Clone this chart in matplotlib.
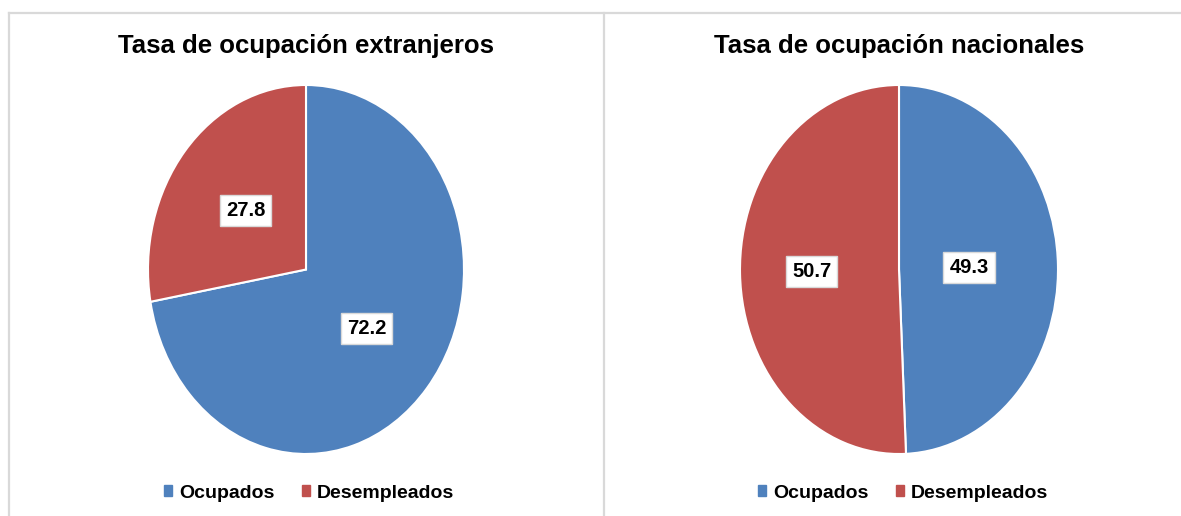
import matplotlib
matplotlib.use("Agg")
import matplotlib.pyplot as plt
from matplotlib.lines import Line2D
import numpy as np

plt.rcParams['font.family'] = ['Liberation Sans', 'DejaVu Sans']
plt.rcParams['font.weight'] = 'bold'

categories = ["Ocupados", "Desempleados"]
extranjeros = [72.2, 27.8]
nacionales = [49.3, 50.7]
titles = ["Tasa de ocupación extranjeros", "Tasa de ocupación nacionales"]
colors = ["#4F81BD", "#C0504D"]

W, H = 1181, 516
fig = plt.figure(figsize=(W / 100, H / 100), dpi=100)

def fx(px):
    return px / W

def fy(py):
    return 1 - py / H

# panel borders
border = "#D9D9D9"
fig.add_artist(Line2D([fx(9), fx(9)], [fy(13), 0], color=border, lw=1.6))
fig.add_artist(Line2D([fx(9), 1], [fy(13), fy(13)], color=border, lw=1.6))
fig.add_artist(Line2D([fx(604), fx(604)], [fy(13), 0], color=border, lw=1.6))

panels = [
    (extranjeros, titles[0], 306, 158, [0.5, 0.5], 309),
    (nacionales, titles[1], 899, 159, [0.44, 0.55], 903),
]
cy, ry = 269.5, 184.5

for vals, title, cx, rx, dists, lx in panels:
    ax = fig.add_axes([fx(cx - rx), fy(cy + ry), (2 * rx) / W, (2 * ry) / H])
    wedges, _ = ax.pie(vals, colors=colors, startangle=90, counterclock=False,
                       radius=1, wedgeprops=dict(edgecolor="white", linewidth=1.5))
    ax.set_aspect('auto')
    ax.set_xlim(-1, 1)
    ax.set_ylim(-1, 1)
    for w, v, d in zip(wedges, vals, dists):
        ang = np.deg2rad((w.theta1 + w.theta2) / 2)
        ax.text(d * np.cos(ang), d * np.sin(ang), f"{v:.1f}", ha='center', va='center',
                fontsize=14.5, fontweight='bold', color='black',
                bbox=dict(boxstyle='square,pad=0.3', facecolor='#FFFFFF', edgecolor='#D9D9D9', lw=1))
    fig.text(fx(cx), fy(46), title, ha='center', va='center', fontsize=18.5, fontweight='bold')
    handles = [plt.Rectangle((0, 0), 1, 1, color=c) for c in colors]
    fig.legend(handles, categories, loc='center', bbox_to_anchor=(fx(lx), fy(493)), ncol=2,
               frameon=False, handlelength=0.45, handleheight=0.45,
               handletextpad=0.35, columnspacing=1.4, prop=dict(weight='bold', size=14))

fig.savefig("out.png", dpi=100, facecolor='white')
